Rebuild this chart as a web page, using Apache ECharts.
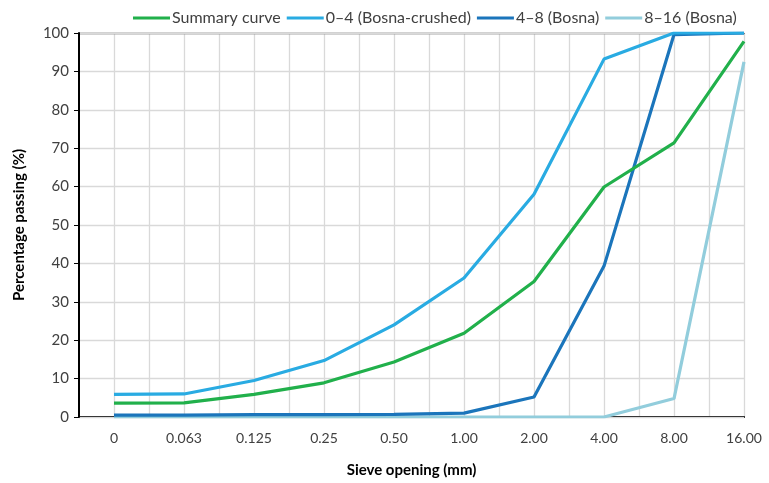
<!DOCTYPE html>
<html><head><meta charset="utf-8">
<script src="https://cdn.jsdelivr.net/npm/echarts@6/dist/echarts.min.js"></script>
<style>html,body{margin:0;padding:0;background:#fff}#c{width:769px;height:483px}</style>
</head><body><div id="c"></div>
<script>
const categories = ["0","0.063","0.125","0.25","0.50","1.00","2.00","4.00","8.00","16.00"];
const summaryCurve = [3.6, 3.7, 5.9, 8.9, 14.3, 21.8, 35.3, 59.9, 71.4, 97.8];
const bosnaCrushed04 = [5.9, 6.0, 9.5, 14.7, 24.0, 36.2, 58.0, 93.2, 100, 100];
const bosna48 = [0.5, 0.5, 0.6, 0.6, 0.7, 1.0, 5.2, 39.3, 99.6, 100];
const bosna816 = [0, 0, 0, 0, 0, 0, 0, 0, 4.8, 92.5];
const yTicks = [0,10,20,30,40,50,60,70,80,90,100];
const xMin = -0.5, xMax = 9;

const font = 'Lato, "Open Sans", sans-serif';
const toPts = arr => arr.map((v,i)=>[i,v]);
const mk = (name, data, color) => ({
  name, type:'line', data: toPts(data), symbol:'none', smooth:false, z:10,
  lineStyle:{color, width:3.2}, itemStyle:{color}
});
const s816 = mk("8\u201316 (Bosna)", bosna816, '#92CDDC');
s816.markLine = {
  silent:true, symbol:'none', label:{show:false}, animation:false,
  lineStyle:{color:'#000', width:2, type:'solid'},
  data:[{xAxis:xMin}]
};
const chart = echarts.init(document.getElementById('c'), null, {renderer:'canvas'});
chart.setOption({
  animation:false,
  textStyle:{fontFamily:font},
  legend:{
    top:5, left:128, itemWidth:37, itemHeight:3, itemGap:6, icon:'rect',
    textStyle:{fontFamily:font, fontSize:16, color:'#404040', padding:[0,0,0,-3]},
    data:["Summary curve","0\u20134 (Bosna-crushed)","4\u20138 (Bosna)","8\u201316 (Bosna)"]
  },
  grid:{left:79, right:25, top:33, bottom:66, containLabel:false},
  xAxis:[{
    type:'value', min:xMin, max:xMax, interval:0.5,
    axisLine:{show:true, onZero:false, lineStyle:{color:'#000', width:2}},
    axisTick:{show:false},
    splitLine:{show:true, showMinLine:false, lineStyle:{color:'#d9d9d9', width:1.3}},
    axisLabel:{fontFamily:font, fontSize:14, color:'#404040', margin:14,
      showMinLabel:true, showMaxLabel:true,
      formatter: v => Number.isInteger(v) && v>=0 ? categories[v] : ''},
    name:'Sieve opening (mm)', nameLocation:'middle', nameGap:46,
    nameTextStyle:{fontFamily:font, fontSize:15, fontWeight:'bold', color:'#000'}
  },{
    type:'value', position:'top', min:xMin, max:xMax,
    axisLine:{show:true, onZero:false, lineStyle:{color:'#404040', width:1.3}},
    axisTick:{show:false}, axisLabel:{show:false}, splitLine:{show:false}
  }],
  yAxis:{
    type:'value', min:0, max:100, interval:10, position:'left', z:5,
    axisLine:{show:true, onZero:false, lineStyle:{color:'#000000', width:2}},
    axisTick:{show:true, length:5, lineStyle:{color:'#000000', width:1}},
    splitLine:{show:true, lineStyle:{color:'#d9d9d9', width:1.3}},
    axisLabel:{fontFamily:font, fontSize:15, color:'#404040', margin:10,
      formatter: v => yTicks.includes(v) ? String(v) : ''},
    name:'Percentage passing (%)', nameLocation:'middle', nameGap:52,
    nameTextStyle:{fontFamily:font, fontSize:15, fontWeight:'bold', color:'#000'}
  },
  series:[
    s816,
    mk("4\u20138 (Bosna)", bosna48, '#1B75BB'),
    mk("0\u20134 (Bosna-crushed)", bosnaCrushed04, '#29ABE2'),
    mk("Summary curve", summaryCurve, '#21B04B')
  ]
});
</script></body></html>
